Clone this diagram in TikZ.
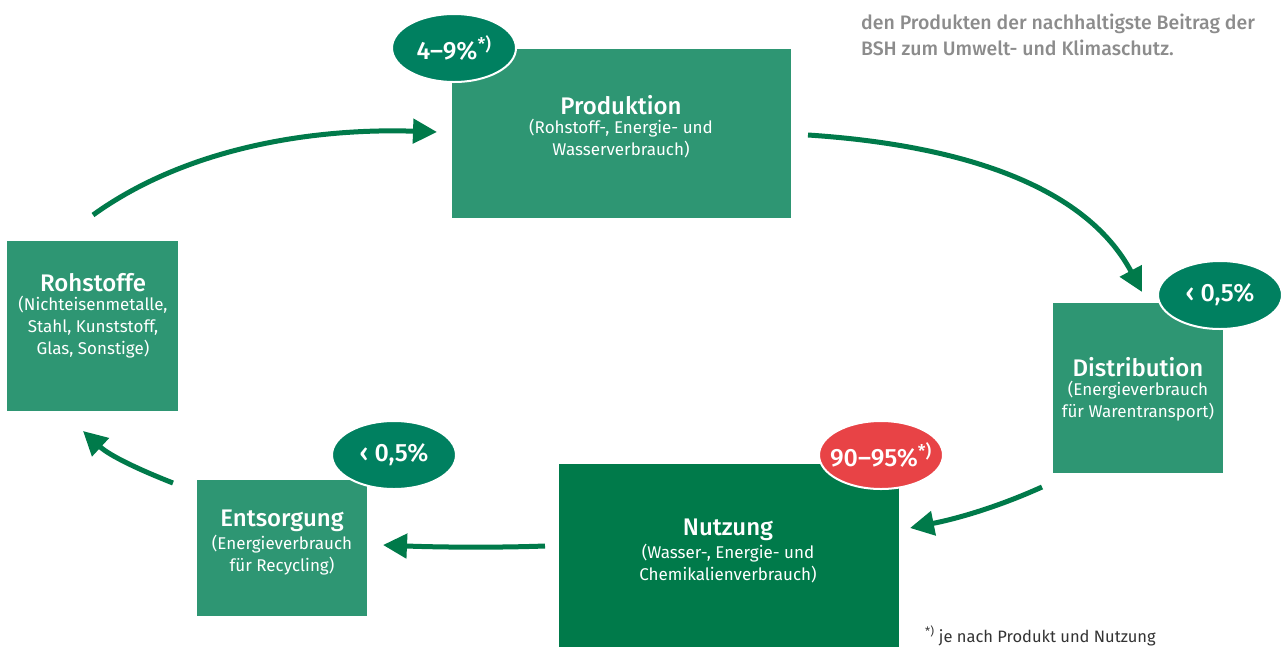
\documentclass[tikz,border=0pt]{standalone}
\usepackage{fontspec}
\setmainfont{Fira Sans}[BoldFont={Fira Sans Medium}]
\usetikzlibrary{arrows.meta,shapes.geometric}
\definecolor{boxgreen}{HTML}{2E9673}
\definecolor{darkgreen}{HTML}{007A4A}
\definecolor{ellgreen}{HTML}{008060}
\definecolor{ellred}{HTML}{E84346}
\definecolor{txtgrey}{HTML}{8C8C8C}
\tikzset{
  box/.style={fill=boxgreen, draw=none, inner sep=0pt, anchor=north west},
  title/.style={text=white, font=\fontsize{24}{26}\selectfont\bfseries, inner sep=0pt},
  sub/.style={text=white, font=\fontsize{17}{22}\selectfont, align=center, inner sep=0pt},
  pct/.style={ellipse, draw=white, line width=2pt, fill=ellgreen, text=white, minimum width=124pt, minimum height=68pt, inner xsep=-8pt, inner ysep=0pt, font=\fontsize{25}{26}\selectfont\bfseries},
  flow/.style={draw=darkgreen, line width=5pt, -{Triangle[length=24pt,width=24pt]}},
}
\begin{document}
\begin{tikzpicture}[x=1pt,y=-1pt]
\useasboundingbox (0,0) rectangle (1286,646);
% boxes
\node[box, minimum width=339pt, minimum height=169pt] (prod) at (452,49) {};
\node[box, minimum width=171pt, minimum height=170pt] (roh) at (7,241) {};
\node[box, minimum width=170pt, minimum height=170pt] (dist) at (1053,303) {};
\node[box, fill=darkgreen, minimum width=340pt, minimum height=190pt] (nutz) at (559,464) {};
\node[box, minimum width=170pt, minimum height=136pt] (ents) at (197,480) {};
% texts
\node[title] (prodT) at (621,105) {Produktion};
\node[sub, anchor=north] (prodS) at (621,119) {(Rohstoff-, Energie- und\\Wasserverbrauch)};
\node[title] (rohT) at (93,283) {Rohstoffe};
\node[sub, anchor=north] (rohS) at (93,296) {(Nichteisenmetalle,\\Stahl, Kunststoff,\\Glas, Sonstige)};
\node[title] (distT) at (1138,367) {Distribution};
\node[sub, anchor=north] (distS) at (1138,381) {(Energieverbrauch\\für Warentransport)};
\node[title] (nutzT) at (728,530) {Nutzung};
\node[sub, anchor=north] (nutzS) at (728,544) {(Wasser-, Energie- und\\Chemikalienverbrauch)};
\node[title] (entsT) at (282,521) {Entsorgung};
\node[sub, anchor=north] (entsS) at (282,535) {(Energieverbrauch\\für Recycling)};
% ellipses
\node[pct] (e1) at (454,48) {4–9\%\textsuperscript{*)}};
\node[pct] (e2) at (1220,295) {‹ 0,5\%};
\node[pct, fill=ellred] (e3) at (881,455) {90–95\%\textsuperscript{*)}};
\node[pct] (e4) at (394,455) {‹ 0,5\%};
% arrows
\coordinate (a1s) at (93,215); \coordinate (a1e) at (437,132);
\coordinate (a2s) at (808,135); \coordinate (a2e) at (1142,292);
\coordinate (a3s) at (1042,487); \coordinate (a3e) at (910,528);
\coordinate (a4s) at (545,546); \coordinate (a4e) at (383,545);
\coordinate (a5s) at (173,483); \coordinate (a5e) at (83,431);
\draw[flow] (a1s) .. controls (190,145) and (320,128) .. (a1e);
\draw[flow] (a2s) .. controls (960,145) and (1085,185) .. (a2e);
\draw[flow] (a3s) .. controls (1000,506) and (960,518) .. (a3e);
\draw[flow] (a4s) .. controls (490,548) and (430,547) .. (a4e);
\draw[flow] (a5s) .. controls (140,470) and (110,456) .. (a5e);
% top-right text
\node[anchor=north west, text=txtgrey, font=\fontsize{19.5}{26}\selectfont\bfseries, align=left, inner sep=0pt] (note) at (861,14) {den Produkten der nachhaltigste Beitrag der\\BSH zum Umwelt- und Klimaschutz.};
\node[anchor=west, text=black!80, font=\fontsize{16.5}{18}\selectfont, inner sep=0pt] (foot) at (925,636) {\textsuperscript{*)} je nach Produkt und Nutzung};
\end{tikzpicture}
\end{document}
